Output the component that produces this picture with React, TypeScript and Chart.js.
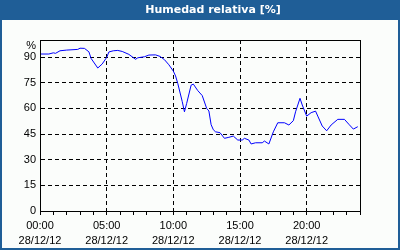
import React, { useEffect, useRef } from "react";
import { Chart, registerables } from "chart.js";

Chart.register(...registerables);

const chartTitle = "Humedad relativa [%]";
const dateLabel = "28/12/12";
const yUnit = "%";

const times = [
  "00:00", "00:40", "01:00", "01:10", "01:30", "02:00", "02:50", "03:00", "03:20", "03:40",
  "03:50", "04:20", "04:40", "05:00", "05:10", "05:30", "05:50", "06:10", "06:40", "07:10",
  "07:20", "07:50", "08:10", "08:40", "09:00", "09:20", "09:40", "10:00", "10:10", "10:20",
  "10:40", "10:50", "11:00", "11:20", "11:30", "11:50", "12:10", "12:30", "12:40", "12:50",
  "13:00", "13:10", "13:30", "13:50", "14:10", "14:30", "14:50", "15:10", "15:20", "15:40",
  "15:50", "16:10", "16:40", "16:50", "17:10", "17:30", "17:50", "18:20", "18:40", "19:00",
  "19:10", "19:30", "19:40", "20:00", "20:20", "20:40", "20:50", "21:10", "21:30", "21:50",
  "22:20", "22:50", "23:10", "23:30", "23:50",
];

const humidity = [
  91.8, 91.8, 92.5, 92.2, 93.7, 94.1, 94.5, 95.2, 95.1, 93.1,
  89.2, 83.6, 86.0, 89.8, 93.0, 93.7, 93.9, 93.3, 91.6, 88.7,
  89.6, 90.2, 91.2, 91.3, 90.4, 88.5, 85.5, 81.8, 79.0, 74.6,
  64.0, 58.0, 62.9, 73.6, 74.2, 70.4, 67.5, 60.0, 58.5, 50.5,
  47.5, 46.3, 45.8, 42.5, 43.1, 43.8, 41.5, 41.5, 42.5, 41.5,
  39.2, 39.9, 39.9, 40.9, 39.2, 46.3, 51.6, 51.6, 50.3, 52.8,
  58.0, 65.9, 62.0, 55.5, 57.5, 58.4, 55.5, 49.7, 46.9, 50.3,
  53.6, 53.6, 50.7, 47.9, 49.3,
];

const yMin = 0;
const yMax = 100;
const yStep = 15;
const xMinHour = 0;
const xMaxHour = 24;
const xLabelStep = 5;

function toHours(t: string): number {
  const [h, m] = t.split(":").map(Number);
  return h + m / 60;
}

function pad2(n: number): string {
  return n < 10 ? "0" + n : String(n);
}

const FONT = "'Liberation Sans', Arial, sans-serif";
const BLUE = "#1f5e97";
const BG = "#fbfdfb";

const framePlugin = {
  id: "frame",
  beforeDraw(chart: any) {
    const { ctx, width, height } = chart;
    ctx.save();
    ctx.fillStyle = BLUE;
    ctx.fillRect(0, 0, width, height);
    ctx.fillStyle = BG;
    ctx.fillRect(2, 20, width - 4, height - 22);
    ctx.fillStyle = "#ffffff";
    ctx.font = "bold 11px 'DejaVu Sans', Verdana, sans-serif";
    ctx.textAlign = "center";
    ctx.textBaseline = "middle";
    ctx.fillText(chartTitle, 213, 10.5);
    ctx.restore();
  },
  afterDraw(chart: any) {
    const { ctx, chartArea } = chart;
    const { left, right, top, bottom } = chartArea;
    ctx.save();
    ctx.strokeStyle = "#000000";
    ctx.lineWidth = 1;
    ctx.strokeRect(Math.round(left) + 0.5, Math.round(top) + 0.5, Math.round(right - left), Math.round(bottom - top));
    ctx.fillStyle = "#000000";
    ctx.font = "11px " + FONT;
    ctx.textAlign = "right";
    ctx.textBaseline = "middle";
    ctx.fillText(yUnit, left - 4, top + 6);
    ctx.restore();
  },
};

export default function App() {
  const canvasRef = useRef<HTMLCanvasElement | null>(null);

  useEffect(() => {
    const canvas = canvasRef.current;
    if (!canvas) return;
    const points = times.map((t, i) => ({ x: toHours(t), y: humidity[i] }));
    const chart = new Chart(canvas, {
      type: "line",
      data: {
        datasets: [
          {
            data: points,
            borderColor: "#0000ff",
            borderWidth: 1,
            pointRadius: 0,
            tension: 0,
            fill: false,
          },
        ],
      },
      options: {
        responsive: false,
        animation: false,
        events: [],
        layout: { padding: { top: 40, right: 40, bottom: 0, left: 0 } },
        plugins: {
          legend: { display: false },
          title: { display: false },
          tooltip: { enabled: false },
        },
        scales: {
          x: {
            type: "linear",
            min: xMinHour,
            max: xMaxHour,
            afterBuildTicks(scale: any) {
              const ticks = [];
              for (let v = xMinHour; v <= xMaxHour; v++) ticks.push({ value: v });
              scale.ticks = ticks;
            },
            afterFit(scale: any) {
              scale.height = 39;
            },
            ticks: {
              autoSkip: false,
              maxRotation: 0,
              minRotation: 0,
              padding: 3,
              color: "#000000",
              font: { family: FONT, size: 11, lineHeight: "15px" },
              callback(value: any) {
                const v = Number(value);
                if (v % xLabelStep === 0 && v < xMaxHour) {
                  return [pad2(v) + ":00", dateLabel];
                }
                return "";
              },
            },
            grid: {
              drawOnChartArea: true,
              drawTicks: true,
              tickLength: 4,
              tickColor: "#000000",
              lineWidth: 1,
              color(ctx: any) {
                const v = ctx.tick ? ctx.tick.value : -1;
                return v % xLabelStep === 0 && v > xMinHour && v < xMaxHour ? "#000000" : "rgba(0,0,0,0)";
              },
            },
            border: { display: true, color: "#000000", width: 1, dash: [4, 3] },
          },
          y: {
            type: "linear",
            min: yMin,
            max: yMax,
            afterBuildTicks(scale: any) {
              const ticks = [];
              for (let v = yMin; v <= 90; v += yStep) ticks.push({ value: v });
              scale.ticks = ticks;
            },
            afterFit(scale: any) {
              scale.width = 40;
            },
            ticks: {
              padding: 4,
              color: "#000000",
              font: { family: FONT, size: 11 },
              callback(value: any) {
                return String(value);
              },
            },
            grid: {
              drawTicks: false,
              lineWidth: 1,
              color(ctx: any) {
                const v = ctx.tick ? ctx.tick.value : -1;
                return v > yMin ? "#000000" : "rgba(0,0,0,0)";
              },
            },
            border: { display: true, color: "#000000", width: 1, dash: [4, 3] },
          },
        },
      },
      plugins: [framePlugin],
    });
    return () => chart.destroy();
  }, []);

  return (
    <div style={{ position: "absolute", left: 0, top: 0, width: 400, height: 250 }}>
      <canvas ref={canvasRef} width={400} height={250} style={{ display: "block", width: 400, height: 250 }} />
    </div>
  );
}
